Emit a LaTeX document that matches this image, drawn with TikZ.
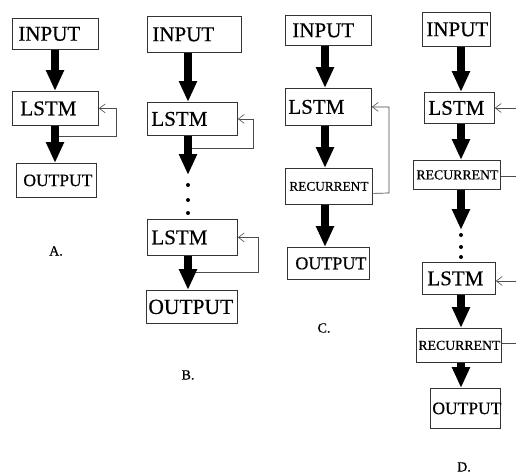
\documentclass[tikz,border=0pt]{standalone}
\usepackage{fontspec}
\setmainfont{Liberation Serif}[FakeBold=0.5]
\usetikzlibrary{arrows.meta,calc}

% box: #1 left pad, #2 font size
\tikzset{
  box/.style 2 args={draw=black!80, line width=0.8pt, anchor=north west,
    inner ysep=0pt, inner xsep=#1, align=left,
    font=\fontsize{#2}{#2}\selectfont},
  blk/.style={line width=7.5pt, -{Triangle[length=21pt 0 0, width=17pt 0 0]}},
  fb/.style={draw=black!70, line width=0.7pt},
  fbarrow/.style={fb, -{Straight Barb[length=6pt, width=9pt, line width=0.6pt]}},
  dotp/.style={circle, fill=black, inner sep=0pt, minimum size=4pt},
  tag/.style={font=\fontsize{14}{14}\selectfont}
}

\begin{document}
\begin{tikzpicture}[x=1pt, y=-1pt]
\useasboundingbox (0,0) rectangle (516,474);
\fill[white] (0,0) rectangle (516,474);

% columns of the thick arrows
\coordinate (colA) at (55,0);
\coordinate (colB) at (188,0);
\coordinate (colC) at (325,0);
\coordinate (colD) at (461,0);

% ---------- A ----------
\node[box={6pt}{21}, minimum height=31pt, text width=74pt] (inA) at (12,18) {INPUT};
\node[box={8pt}{21}, minimum height=34pt, text width=70pt] (lstmA) at (12,91) {LSTM};
\node[box={7pt}{17.5}, minimum height=34pt, text width=66pt] (outA) at (16,163) {OUTPUT};
\node[tag] (tagA) at (56,251) {A.};
\coordinate (fA) at (55,136);
\draw[fbarrow] (fA) -- (116,136) |- (lstmA.east);
\draw[blk] (inA.south -| colA) -- (lstmA.north -| colA);
\draw[blk] (lstmA.south -| colA) -- (outA.north -| colA);

% ---------- B ----------
\node[box={5pt}{21}, minimum height=36pt, text width=84pt] (inB) at (147,16) {INPUT};
\node[box={4pt}{21}, minimum height=33pt, text width=82pt] (lstmB1) at (147,102) {LSTM};
\node[box={4pt}{21}, minimum height=36pt, text width=82pt] (lstmB2) at (147,219) {LSTM};
\node[box={2pt}{21.5}, minimum height=33pt, text width=87pt] (outB) at (146,290) {OUTPUT};
\node[tag] (tagB) at (188,375) {B.};
\coordinate (eB) at (188,175);
\node[dotp] (dB1) at (188,185) {};
\node[dotp] (dB2) at (188,200) {};
\node[dotp] (dB3) at (188,213) {};
\coordinate (fB1) at (188,148);
\coordinate (fB2) at (188,272);
\draw[fbarrow] (fB1) -- (253,148) |- (lstmB1.east);
\draw[fbarrow] (fB2) -- (258,272) |- (lstmB2.east);
\draw[blk] (inB.south -| colB) -- (lstmB1.north -| colB);
\draw[blk] (lstmB1.south -| colB) -- (eB);
\draw[blk] (lstmB2.south -| colB) -- (outB.north -| colB);

% ---------- C ----------
\node[box={7pt}{21}, minimum height=30pt, text width=72pt] (inC) at (285,15) {INPUT};
\node[box={3pt}{21}, minimum height=37pt, text width=80pt] (lstmC) at (285,88) {LSTM};
\node[box={4pt}{13.3}, minimum height=36pt, text width=79pt] (recC) at (285,168) {RECURRENT};
\node[box={8pt}{18}, minimum height=32pt, text width=66pt] (outC) at (287,247) {OUTPUT};
\node[tag] (tagC) at (324,328) {C.};
\draw[fbarrow] ([yshift=-7pt]recC.east) -- (389,193) |- (lstmC.east);
\draw[blk] (inC.south -| colC) -- (lstmC.north -| colC);
\draw[blk] (lstmC.south -| colC) -- (recC.north -| colC);
\draw[blk] (recC.south -| colC) -- (outC.north -| colC);

% ---------- D ----------
\node[box={4pt}{21}, minimum height=34pt, text width=60pt] (inD) at (422,12) {INPUT};
\node[box={4pt}{21}, minimum height=31pt, text width=62pt] (lstmD1) at (424,92) {LSTM};
\node[box={3pt}{13.8}, minimum height=29pt, text width=81pt] (recD1) at (413,160) {RECURRENT};
\node[box={5pt}{21}, minimum height=32pt, text width=63pt] (lstmD2) at (422,262) {LSTM};
\node[box={2pt}{13.8}, minimum height=34pt, text width=81pt] (recD2) at (416,328) {RECURRENT};
\node[box={2pt}{17.5}, minimum height=40pt, text width=66pt] (outD) at (430,388) {OUTPUT};
\node[tag] (tagD) at (464,467) {D.};
\coordinate (eD) at (461,230);
\node[dotp] (dD1) at (461,235) {};
\node[dotp] (dD2) at (461,247) {};
\node[dotp] (dD3) at (461,257) {};
\coordinate (inD1) at (516,108);
\coordinate (outD1) at (516,176);
\coordinate (inD2) at (516,281);
\coordinate (outD2) at (516,343);
\draw[fbarrow] (inD1) -- (inD1 -| lstmD1.east);
\draw[fb] (outD1 -| recD1.east) -- (outD1);
\draw[fbarrow] (inD2) -- (inD2 -| lstmD2.east);
\draw[fb] (outD2 -| recD2.east) -- (outD2);
\draw[blk] (inD.south -| colD) -- (lstmD1.north -| colD);
\draw[blk] (lstmD1.south -| colD) -- (recD1.north -| colD);
\draw[blk] (recD1.south -| colD) -- (eD);
\draw[blk] (lstmD2.south -| colD) -- (recD2.north -| colD);
\draw[blk] (recD2.south -| colD) -- (outD.north -| colD);
\end{tikzpicture}
\end{document}
